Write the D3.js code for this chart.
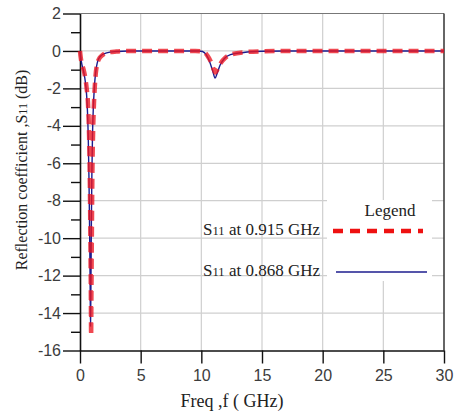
<!DOCTYPE html>
<html>
<head>
<meta charset="utf-8">
<script src="https://cdn.jsdelivr.net/npm/d3@7"></script>
<style>
  html, body { margin: 0; padding: 0; background: #fff; }
  svg { display: block; }
</style>
</head>
<body>
<svg id="chart" width="454" height="414"></svg>
<script>
// Frequency sweep (GHz) and return loss (dB) of the two designs
const freq915 = [0, 0.05, 0.15, 0.3, 0.45, 0.55, 0.65, 0.72, 0.78, 0.83, 0.87, 0.9, 0.915, 0.94, 0.98, 1.02, 1.08, 1.15, 1.22, 1.3, 1.4, 1.55, 1.8, 2.2, 3, 4, 6, 8, 9.5, 10.2, 10.5, 10.8, 11.0, 11.15, 11.35, 11.6, 12.0, 12.5, 13.5, 15, 17, 30];
const s11_915 = [0, -0.3, -0.7, -1.0, -1.5, -2.0, -2.7, -3.8, -5.5, -8, -11, -13.5, -15.2, -13, -9.5, -6.5, -4.3, -2.8, -1.9, -1.2, -0.75, -0.45, -0.25, -0.1, -0.03, 0, 0, 0, 0, -0.05, -0.25, -0.6, -0.95, -1.15, -0.95, -0.65, -0.35, -0.18, -0.07, -0.02, 0, 0];

const freq868 = [0, 0.05, 0.15, 0.3, 0.45, 0.55, 0.62, 0.68, 0.74, 0.8, 0.84, 0.868, 0.9, 0.94, 0.98, 1.03, 1.1, 1.18, 1.28, 1.4, 1.55, 1.8, 2.2, 3, 4, 8, 9.8, 10.1, 10.4, 10.7, 10.95, 11.13, 11.3, 11.55, 11.9, 12.4, 13.5, 15, 17, 30];
const s11_868 = [0, -0.3, -0.7, -1.1, -1.7, -2.4, -3.3, -4.6, -6.8, -10, -12.8, -14.7, -12.5, -9, -6.5, -4.5, -3.0, -2.0, -1.2, -0.7, -0.4, -0.22, -0.1, -0.03, 0, 0, 0, -0.03, -0.2, -0.6, -1.1, -1.45, -1.2, -0.75, -0.4, -0.2, -0.08, -0.02, 0, 0];

const xTicks = [0, 5, 10, 15, 20, 25, 30];
const yTicks = [2, 0, -2, -4, -6, -8, -10, -12, -14, -16];
const yMinorTicks = [1, -1, -3, -5, -7, -9, -11, -13, -15];

const legendLabels = ["0.915 GHz", "0.868 GHz"];

const svg = d3.select("#chart");
const plotLeft = 80, plotRight = 444, plotTop = 13.5, plotBottom = 350.5;

const x = d3.scaleLinear().domain([0, 30]).range([plotLeft, plotRight]);
const y = d3.scaleLinear().domain([-16, 2]).range([plotBottom, plotTop]);

// grid
const grid = svg.append("g").attr("stroke", "#cfcfcf").attr("stroke-width", 1.2);
grid.selectAll("line.v").data(xTicks.slice(1, -1)).join("line")
  .attr("class", "v")
  .attr("x1", d => x(d)).attr("x2", d => x(d))
  .attr("y1", plotTop).attr("y2", plotBottom);
grid.selectAll("line.h").data(yTicks.slice(1, -1)).join("line")
  .attr("class", "h")
  .attr("x1", plotLeft).attr("x2", plotRight)
  .attr("y1", d => y(d)).attr("y2", d => y(d));

// frame: top and right edges
svg.append("line").attr("x1", plotLeft).attr("x2", plotRight).attr("y1", plotTop).attr("y2", plotTop)
  .attr("stroke", "#777").attr("stroke-width", 1.2);
svg.append("line").attr("x1", plotRight).attr("x2", plotRight).attr("y1", plotTop).attr("y2", plotBottom)
  .attr("stroke", "#333").attr("stroke-width", 1.5);

// axes (plain hyphen for negative labels)
const fmt = d => String(d);
const xAxis = d3.axisBottom(x).tickValues(xTicks).tickFormat(fmt).tickSize(13).tickPadding(6).tickSizeOuter(0);
const gx = svg.append("g").attr("transform", `translate(0,${plotBottom})`).call(xAxis);
gx.select(".domain").attr("stroke", "#111").attr("stroke-width", 1.6);
gx.selectAll(".tick line").attr("stroke", "#111").attr("stroke-width", 1.4);
gx.selectAll(".tick text").attr("font-family", "Liberation Sans, Arial, sans-serif")
  .attr("font-size", 16).attr("fill", "#3c3c3c");

const yAxis = d3.axisLeft(y).tickValues(yTicks).tickFormat(fmt).tickSize(17).tickPadding(2).tickSizeOuter(0);
const gy = svg.append("g").attr("transform", `translate(${plotLeft},0)`).call(yAxis);
gy.select(".domain").attr("stroke", "#111").attr("stroke-width", 1.6);
gy.selectAll(".tick line").attr("stroke", "#111").attr("stroke-width", 1.4);
gy.selectAll(".tick text").attr("font-family", "Liberation Sans, Arial, sans-serif")
  .attr("font-size", 16).attr("fill", "#3c3c3c");

const yMinor = d3.axisLeft(y).tickValues(yMinorTicks).tickSize(9).tickFormat("").tickSizeOuter(0);
const gym = svg.append("g").attr("transform", `translate(${plotLeft},0)`).call(yMinor);
gym.select(".domain").remove();
gym.selectAll(".tick line").attr("stroke", "#111").attr("stroke-width", 1.4);

// curves
const line = d3.line().x(d => x(d[0])).y(d => y(d[1])).curve(d3.curveMonotoneX);
const data868 = freq868.map((f, i) => [f, s11_868[i]]);
const data915 = freq915.map((f, i) => [f, s11_915[i]]);

svg.append("path").datum(data868).attr("d", line)
  .attr("fill", "none").attr("stroke", "#1c1c8e").attr("stroke-width", 1.4);
svg.append("path").datum(data915).attr("d", line)
  .attr("fill", "none").attr("stroke", "#ec1420").attr("stroke-width", 4.5)
  .attr("stroke-dasharray", "10,6").attr("opacity", 0.78);

// legend
const lg = svg.append("g");
lg.append("rect").attr("x", 327).attr("y", 200).attr("width", 105).attr("height", 81).attr("fill", "#fff");
lg.append("text").attr("x", 390).attr("y", 216).attr("text-anchor", "middle")
  .attr("font-family", "Liberation Serif, Times New Roman, serif").attr("font-size", 17)
  .attr("fill", "#222").text("Legend");

const rows = [
  { label: legendLabels[0], y: 231, stroke: "#ee1111", width: 4.5, dash: "10,7" },
  { label: legendLabels[1], y: 272, stroke: "#1c1c8e", width: 1.3, dash: null }
];
rows.forEach(r => {
  const t = lg.append("text").attr("x", 320).attr("y", r.y + 4).attr("text-anchor", "end")
    .attr("font-family", "Liberation Serif, Times New Roman, serif").attr("font-size", 17)
    .attr("fill", "#222");
  t.append("tspan").text("S");
  t.append("tspan").attr("font-size", 12.5).text("11");
  t.append("tspan").text(" at " + r.label);
  const l = lg.append("line").attr("x1", r.dash ? 333 : 336).attr("x2", r.dash ? 423 : 427)
    .attr("y1", r.y).attr("y2", r.y)
    .attr("stroke", r.stroke).attr("stroke-width", r.width);
  if (r.dash) l.attr("stroke-dasharray", r.dash);
});

// axis titles
svg.append("text").attr("x", 232).attr("y", 407).attr("text-anchor", "middle")
  .attr("font-family", "Liberation Serif, Times New Roman, serif").attr("font-size", 18)
  .attr("fill", "#222").text("Freq ,f ( GHz)");

const yt = svg.append("text").attr("transform", "translate(27,170) rotate(-90)")
  .attr("text-anchor", "middle")
  .attr("font-family", "Liberation Serif, Times New Roman, serif").attr("font-size", 16)
  .attr("fill", "#222");
yt.append("tspan").text("Reflection coefficient ,S");
yt.append("tspan").attr("font-size", 12).text("11");
yt.append("tspan").text(" (dB)");
</script>
</body>
</html>
